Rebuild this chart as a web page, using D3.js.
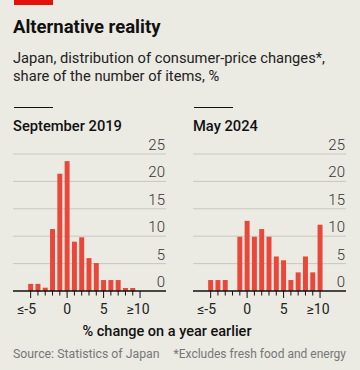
<!DOCTYPE html>
<html lang="en">
<head>
<meta charset="UTF-8">
<title>Alternative reality</title>
<script src="https://d3js.org/d3.v7.min.js"></script>
<style>
    body { margin: 0; background: #ebeae3; font-family: Roboto, "Noto Sans", sans-serif; }
    svg { display: block; }
    .grid { stroke: #c8c8c1; stroke-width: 1; }
    .base { stroke: #111; stroke-width: 1.5; }
    .tick-lab { font-size: 14px; fill: #222; }
    .ylab { font-size: 15px; fill: #333; font-weight: 300; text-anchor: end; }
    .bar { fill: #e8473a; }
</style>
</head>
<body>
<svg width="360" height="370"></svg>
<script>
    // bins of % change, -5 (or lower) .. 10 (or higher)
    const bins = [-5, -4, -3, -2, -1, 0, 1, 2, 3, 4, 5, 6, 7, 8, 9, 10];
    const sep2019 = [1.3, 1.3, 0.6, 11.3, 21.4, 23.7, 9.0, 9.8, 6.0, 5.1, 2.0, 2.0, 2.0, 0.55, 0.55, 0];
    const may2024 = [2.0, 2.0, 2.0, 0, 9.9, 12.8, 9.9, 11.3, 9.9, 6.3, 5.6, 2.0, 3.4, 6.3, 3.4, 12.1];
    const yTicks = [0, 5, 10, 15, 20, 25];
    const xLabels = [[-5, "≤-5"], [0, "0"], [5, "5"], [10, "≥10"]];

    const svg = d3.select("svg");

    // header
    svg.append("rect").attr("x", 14).attr("y", 0).attr("width", 39).attr("height", 5).attr("fill", "#e3120b");
    svg.append("text").attr("x", 13).attr("y", 33).attr("font-size", 18.5).attr("font-weight", 700)
        .attr("fill", "#111").text("Alternative reality");
    svg.append("text").attr("x", 13).attr("y", 63).attr("font-size", 14.7).attr("fill", "#222")
        .text("Japan, distribution of consumer-price changes*,");
    svg.append("text").attr("x", 13).attr("y", 81).attr("font-size", 14.7).attr("fill", "#222")
        .text("share of the number of items, %");

    const y = d3.scaleLinear().domain([0, 25]).range([291, 154]);

    function panel(dx, title, values) {
        const g = svg.append("g").attr("transform", `translate(${dx},0)`);
        const x = d3.scaleBand().domain(bins).range([27, 143.7]);
        const xc = d => x(d) + x.bandwidth() / 2;

        g.append("line").attr("x1", 14).attr("x2", 53).attr("y1", 107.5).attr("y2", 107.5)
            .attr("stroke", "#111").attr("stroke-width", 1.2);
        g.append("text").attr("x", 13).attr("y", 131).attr("font-size", 14.7).attr("font-weight", 500)
            .attr("fill", "#111").text(title);

        g.selectAll(".grid").data(yTicks.filter(t => t > 0)).join("line")
            .attr("class", "grid")
            .attr("x1", 13).attr("x2", 166)
            .attr("y1", d => y(d)).attr("y2", d => y(d));

        g.selectAll(".ylab").data(yTicks).join("text")
            .attr("class", "ylab")
            .attr("x", 165).attr("y", d => y(d) - 4)
            .text(d => d);

        g.selectAll(".bar").data(values.map((v, i) => ({ bin: bins[i], v }))).join("rect")
            .attr("class", "bar")
            .attr("x", d => x(d.bin) + x.bandwidth() * 0.16)
            .attr("width", x.bandwidth() * 0.68)
            .attr("y", d => y(d.v))
            .attr("height", d => y(0) - y(d.v));

        g.append("line").attr("class", "base")
            .attr("x1", 13).attr("x2", 166).attr("y1", y(0)).attr("y2", y(0));

        g.selectAll(".tk").data(bins).join("line")
            .attr("class", "tk")
            .attr("stroke", "#111").attr("stroke-width", 1)
            .attr("x1", d => xc(d)).attr("x2", d => xc(d))
            .attr("y1", y(0))
            .attr("y2", d => y(0) + (d % 5 === 0 ? 7 : 4.5));

        g.selectAll(".tick-lab").data(xLabels).join("text")
            .attr("class", "tick-lab")
            .attr("text-anchor", "middle")
            .attr("x", d => xc(d[0]) + (d[0] === -5 ? -4 : d[0] === 10 ? -2 : 0))
            .attr("y", 314)
            .text(d => d[1]);
    }

    panel(0, "September 2019", sep2019);
    panel(180, "May 2024", may2024);

    svg.append("text").attr("x", 167).attr("y", 336).attr("text-anchor", "middle")
        .attr("font-size", 14.5).attr("font-weight", 500).attr("fill", "#111")
        .text("% change on a year earlier");

    svg.append("text").attr("x", 13).attr("y", 358).attr("font-size", 12.3).attr("fill", "#777")
        .text("Source: Statistics of Japan");
    svg.append("text").attr("x", 346).attr("y", 358).attr("font-size", 12).attr("fill", "#777")
        .attr("text-anchor", "end").text("*Excludes fresh food and energy");
</script>
</body>
</html>
